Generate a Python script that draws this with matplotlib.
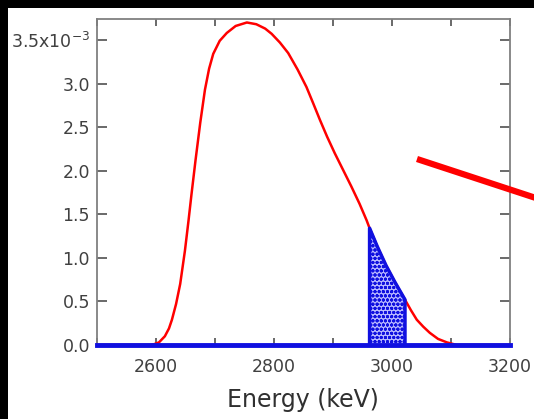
import numpy as np
import matplotlib
matplotlib.use('Agg')
import matplotlib.pyplot as plt
from matplotlib.patches import Rectangle
from matplotlib.lines import Line2D

# energy (keV) and spectrum (x1e-3)
energy = [2500, 2590, 2597, 2605, 2615, 2622, 2627, 2634, 2641, 2649, 2655, 2660,
          2667, 2675, 2683, 2690, 2697, 2708, 2720, 2735, 2754, 2770, 2785, 2796,
          2810, 2824, 2840, 2855, 2866, 2878, 2890, 2903, 2917, 2931, 2945, 2957,
          2962, 2975, 2990, 3005, 3022, 3032, 3042, 3053, 3064, 3078, 3093, 3110, 3200]
counts = [0, 0, 0.01, 0.03, 0.10, 0.19, 0.29, 0.47, 0.70, 1.08, 1.42, 1.72,
          2.12, 2.55, 2.93, 3.17, 3.34, 3.49, 3.58, 3.66, 3.70, 3.68, 3.63, 3.57,
          3.47, 3.35, 3.16, 2.96, 2.78, 2.58, 2.39, 2.20, 2.01, 1.82, 1.62, 1.43,
          1.34, 1.13, 0.91, 0.72, 0.52, 0.40, 0.29, 0.21, 0.14, 0.07, 0.03, 0.0, 0]
window = (2962, 3022)  # shaded region

x = np.array(energy, dtype=float)
y = np.array(counts) * 1e-3

W, H = 534, 419
fig = plt.figure(figsize=(W / 100, H / 100), dpi=100, facecolor='black')
# white panel on black frame
fig.patches.append(Rectangle((8 / W, 0), 1, (H - 8) / H, transform=fig.transFigure,
                             facecolor='white', edgecolor='none', zorder=0))

ax = fig.add_axes([97 / W, 1 - 345 / H, (510 - 97) / W, (345 - 19) / H])
ax.set_zorder(1)
ax.set_facecolor('white')

ax.plot(x, y, color='red', lw=1.8, zorder=3, clip_on=False)

m = (x >= window[0]) & (x <= window[1])
xs, ys = x[m], y[m]
plt.rcParams['hatch.color'] = '#1010e0'
plt.rcParams['hatch.linewidth'] = 1.0
ax.fill_between(xs, 0, ys, facecolor='#b8b8ff', edgecolor='#1010e0',
                hatch='oooo', lw=0, zorder=4)
ax.plot(np.r_[xs[0], xs, xs[-1]], np.r_[0, ys, 0], color='#1010e0', lw=2.5, zorder=5)
ax.plot([2500, 3200], [0, 0], color='#1010e0', lw=3.5, zorder=6, clip_on=False)

ax.set_xlim(2500, 3200)
ax.set_ylim(0, 3.74e-3)

xt = np.arange(2500, 3201, 100)
ax.set_xticks(xt)
ax.set_xticklabels([str(v) if v % 200 == 0 else '' for v in xt])
yt = np.arange(0, 3.51e-3, 0.5e-3)
ax.set_yticks(yt)
ylabs = ['%.1f' % (v * 1e3) for v in yt]
ylabs[-1] = r'3.5x10$^{-3}$'
ax.set_yticklabels(ylabs)

ax.tick_params(axis='both', direction='in', length=7, width=1.2, color='#505050',
               labelcolor='#404040', labelsize=12.5, top=True, right=True)
ax.tick_params(axis='x', pad=9, length=5)
ax.tick_params(axis='y', pad=5)
for s in ax.spines.values():
    s.set_color('#808080')
    s.set_linewidth(1.3)

fig.text(303 / W, 1 - 400 / H, 'Energy (keV)', ha='center', va='center',
         fontsize=17, color='#303030')

# red pointer line
fig.add_artist(Line2D([417 / W, 545 / W], [1 - 159 / H, 1 - 201 / H],
                      transform=fig.transFigure, color='red', lw=4.5,
                      solid_capstyle='butt', zorder=10))

fig.savefig('out.png', dpi=100, facecolor='black')
